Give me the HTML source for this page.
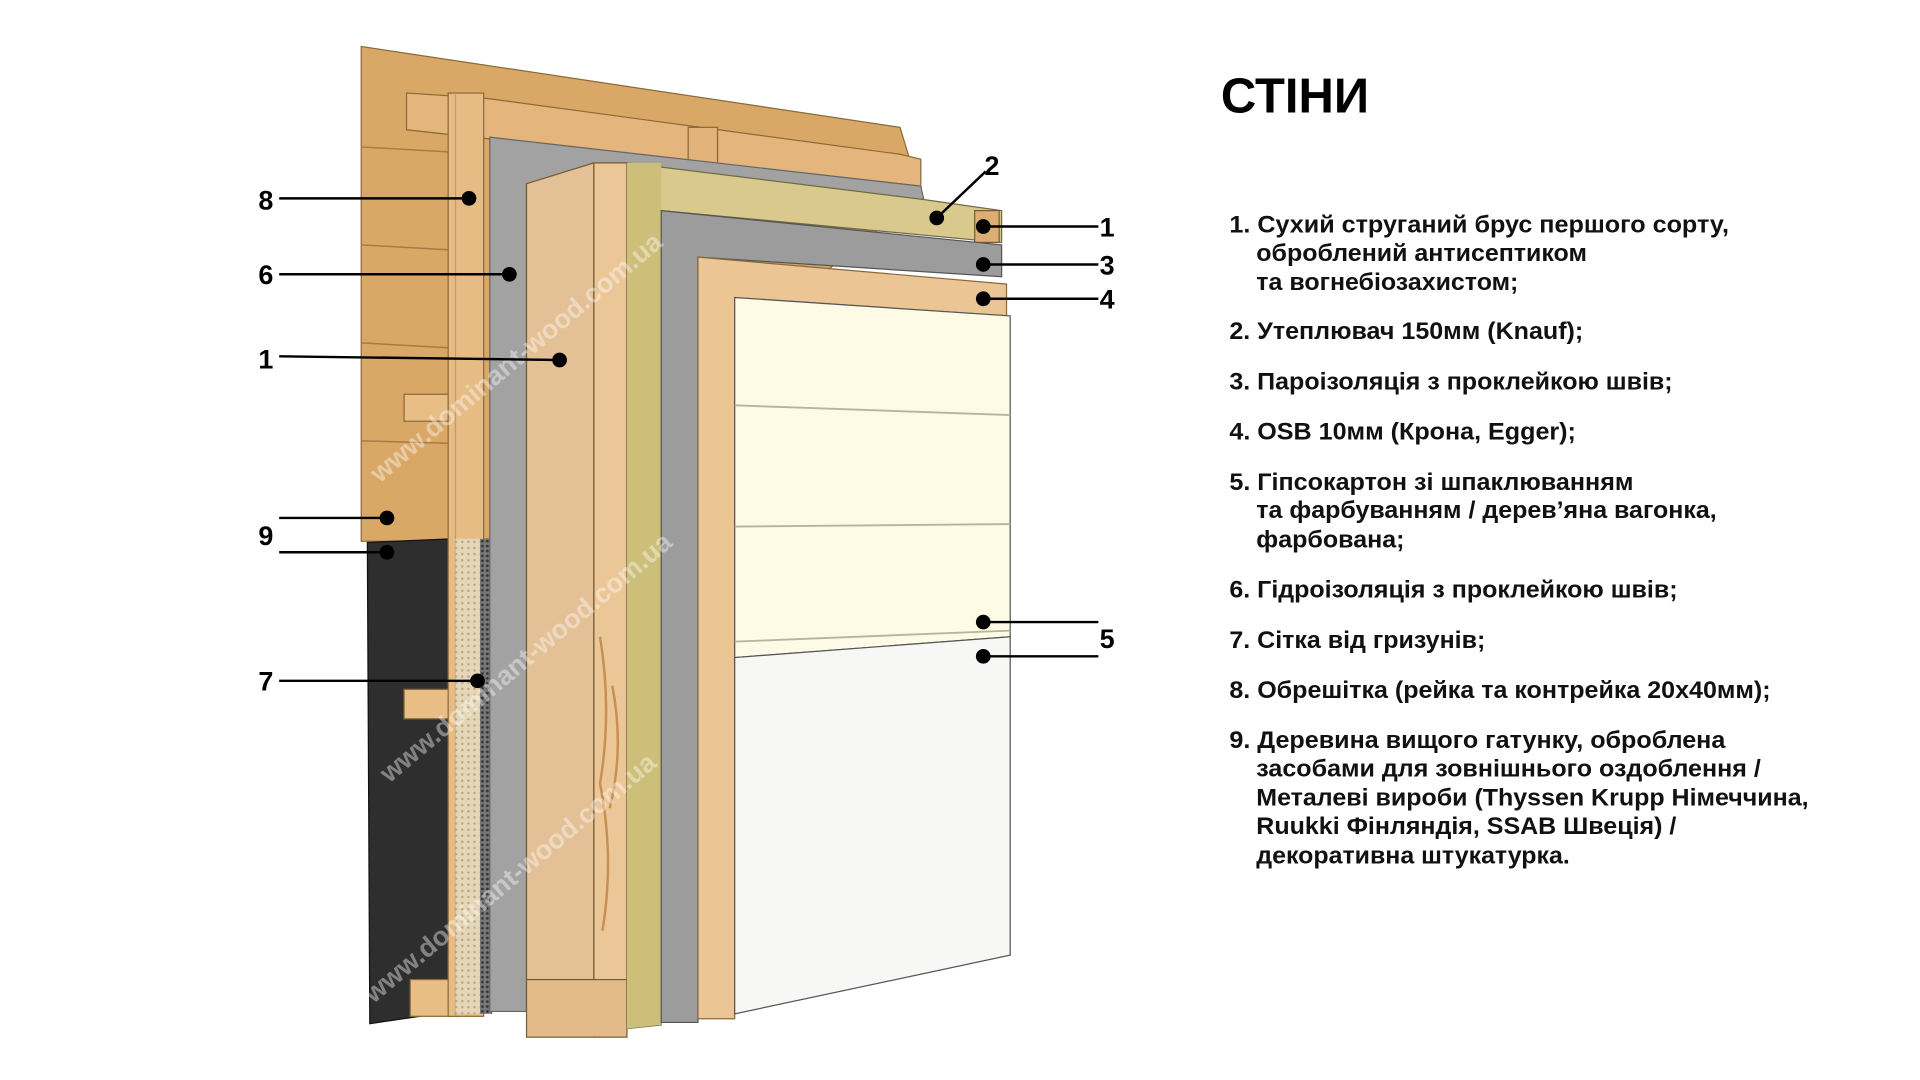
<!DOCTYPE html>
<html><head><meta charset="utf-8"><style>html,body{margin:0;padding:0;background:#fff;width:1920px;height:1080px;overflow:hidden}</style></head>
<body>
<svg width="1920" height="1080" viewBox="0 0 1568 882" xmlns="http://www.w3.org/2000/svg" font-family="'Liberation Sans', Arial, sans-serif">
<defs>
<pattern id="dots" width="5" height="5" patternUnits="userSpaceOnUse"><rect width="5" height="5" fill="#e6d6b8"/><circle cx="2.5" cy="2.5" r="1" fill="#b8a88a"/></pattern>
<pattern id="mesh" width="4" height="4" patternUnits="userSpaceOnUse"><rect width="4" height="4" fill="#777"/><circle cx="2" cy="2" r="1.1" fill="#333"/></pattern>
</defs>
<polygon points="295,38 735,104 752,160 400,440 366,442 295,442" fill="#d9a867" stroke="#8a6a3a" stroke-width="1"/>
<g stroke="#a67a44" stroke-width="1.2">
<line x1="295" y1="120" x2="366" y2="124"/><line x1="295" y1="200" x2="366" y2="204"/><line x1="295" y1="280" x2="366" y2="284"/><line x1="295" y1="360" x2="366" y2="362"/>
</g>
<polygon points="300,443 370,440 370,826 302,836" fill="#2e2e2e" stroke="#111"/>
<polygon points="332,76 395,80 735,126 752,130 752,152 570,132 332,106" fill="#e4b57c" stroke="#8a6a3a"/>
<rect x="330" y="322" width="40" height="22" fill="#e8bd86" stroke="#8a6a3a"/>
<rect x="330" y="563" width="40" height="24" fill="#e8bd86" stroke="#8a6a3a"/>
<rect x="335" y="800" width="40" height="30" fill="#e8bd86" stroke="#8a6a3a"/>
<rect x="562" y="104" width="24" height="30" fill="#e2b37a" stroke="#8a6a3a"/>
<rect x="366" y="76" width="29" height="754" fill="#e6bb84" stroke="#8a6a3a"/>
<line x1="372" y1="76" x2="372" y2="830" stroke="#c9985c"/>
<rect x="372" y="440" width="22" height="388" fill="url(#dots)"/>
<rect x="392" y="440" width="10" height="388" fill="url(#mesh)"/>
<polygon points="400,112 752,152 755,166 430,150 430,826 400,826" fill="#a2a2a2" stroke="#666"/>
<polygon points="430,150 485,133 485,847 430,826" fill="#e3c096" stroke="#7a5a34"/>
<polygon points="485,133 512,133 512,842 485,847" fill="#ebc797" stroke="#7a5a34"/>
<path d="M490,520 q10,60 0,120 q12,60 2,120 M500,560 q10,50 -2,100" stroke="#c98e52" fill="none" stroke-width="2"/>
<rect x="430" y="800" width="82" height="47" fill="#e3bb88" stroke="#7a5a34"/>
<polygon points="512,133 755,163 818,172 818,198 540,172 540,837 512,840" fill="#d9c98d" stroke="#6f6a45"/>
<polygon points="512,133 540,133 540,837 512,840" fill="#cdbf7a"/>
<rect x="796" y="172" width="20" height="26" fill="#dcae74" stroke="#7a5a34"/>
<polygon points="540,172 818,200 818,226 570,210 570,835 540,835" fill="#9c9c9c" stroke="#555"/>
<polygon points="570,210 822,232 822,258 600,243 600,832 570,832" fill="#ebc593" stroke="#8a6a3a"/>
<polygon points="600,243 825,258 825,520 600,537" fill="#fdfae6" stroke="#555"/>
<polygon points="600,537 825,520 825,780 600,828" fill="#f7f7f5" stroke="#555"/>
<g stroke="#b8b49a" stroke-width="1.5">
<line x1="600" y1="331" x2="825" y2="339"/><line x1="600" y1="430" x2="825" y2="428"/><line x1="600" y1="524" x2="825" y2="515"/>
</g>
<g fill="#fff" opacity="0.4" font-size="22" font-weight="bold">
<text transform="translate(310,395) rotate(-40)">www.dominant-wood.com.ua</text>
<text transform="translate(318,640) rotate(-40)">www.dominant-wood.com.ua</text>
<text transform="translate(305,820) rotate(-40)">www.dominant-wood.com.ua</text>
</g>
<g stroke="#000" stroke-width="2" fill="none">
<line x1="228" y1="162" x2="383" y2="162"/>
<line x1="228" y1="224" x2="416" y2="224"/>
<line x1="228" y1="291" x2="457" y2="294"/>
<line x1="228" y1="423" x2="316" y2="423"/>
<line x1="228" y1="451" x2="316" y2="451"/>
<line x1="228" y1="556" x2="390" y2="556"/>
<line x1="765" y1="178" x2="805" y2="140"/>
<line x1="803" y1="185" x2="897" y2="185"/>
<line x1="803" y1="216" x2="897" y2="216"/>
<line x1="803" y1="244" x2="897" y2="244"/>
<line x1="803" y1="508" x2="897" y2="508"/>
<line x1="803" y1="536" x2="897" y2="536"/>
</g>
<g fill="#000">
<circle cx="383" cy="162" r="6"/><circle cx="416" cy="224" r="6"/><circle cx="457" cy="294" r="6"/>
<circle cx="316" cy="423" r="6"/><circle cx="316" cy="451" r="6"/><circle cx="390" cy="556" r="6"/>
<circle cx="765" cy="178" r="6"/><circle cx="803" cy="185" r="6"/><circle cx="803" cy="216" r="6"/>
<circle cx="803" cy="244" r="6"/><circle cx="803" cy="508" r="6"/><circle cx="803" cy="536" r="6"/>
</g>
<g font-size="22" font-weight="bold" fill="#000">
<text x="211" y="171">8</text><text x="211" y="232">6</text><text x="211" y="301">1</text>
<text x="211" y="445">9</text><text x="211" y="564">7</text>
<text x="804" y="143">2</text><text x="898" y="193">1</text><text x="898" y="224">3</text>
<text x="898" y="252">4</text><text x="898" y="529">5</text>
</g>
<text x="997" y="92" font-size="40" font-weight="bold">СТІНИ</text>
<g font-size="19.5" font-weight="bold" fill="#111" lengthAdjust="spacingAndGlyphs">
<text x="1004" y="190" textLength="408" lengthAdjust="spacingAndGlyphs">1. Сухий струганий брус першого сорту,</text>
<text x="1026" y="213" textLength="270" lengthAdjust="spacingAndGlyphs">оброблений антисептиком</text>
<text x="1026" y="237" textLength="214" lengthAdjust="spacingAndGlyphs">та вогнебіозахистом;</text>
<text x="1004" y="277" textLength="289" lengthAdjust="spacingAndGlyphs">2. Утеплювач 150мм (Knauf);</text>
<text x="1004" y="318" textLength="362" lengthAdjust="spacingAndGlyphs">3. Пароізоляція з проклейкою швів;</text>
<text x="1004" y="359" textLength="283" lengthAdjust="spacingAndGlyphs">4. OSB 10мм (Крона, Egger);</text>
<text x="1004" y="400" textLength="330" lengthAdjust="spacingAndGlyphs">5. Гіпсокартон зі шпаклюванням</text>
<text x="1026" y="423" textLength="376" lengthAdjust="spacingAndGlyphs">та фарбуванням / дерев’яна вагонка,</text>
<text x="1026" y="447" textLength="121" lengthAdjust="spacingAndGlyphs">фарбована;</text>
<text x="1004" y="488" textLength="366" lengthAdjust="spacingAndGlyphs">6. Гідроізоляція з проклейкою швів;</text>
<text x="1004" y="529" textLength="209" lengthAdjust="spacingAndGlyphs">7. Сітка від гризунів;</text>
<text x="1004" y="570" textLength="442" lengthAdjust="spacingAndGlyphs">8. Обрешітка (рейка та контрейка 20х40мм);</text>
<text x="1004" y="611" textLength="405" lengthAdjust="spacingAndGlyphs">9. Деревина вищого гатунку, оброблена</text>
<text x="1026" y="634" textLength="412" lengthAdjust="spacingAndGlyphs">засобами для зовнішнього оздоблення /</text>
<text x="1026" y="658" textLength="451" lengthAdjust="spacingAndGlyphs">Металеві вироби (Thyssen Krupp Німеччина,</text>
<text x="1026" y="681" textLength="343" lengthAdjust="spacingAndGlyphs">Ruukki Фінляндія, SSAB Швеція) /</text>
<text x="1026" y="705" textLength="256" lengthAdjust="spacingAndGlyphs">декоративна штукатурка.</text>
</g>
</svg>
</body></html>
